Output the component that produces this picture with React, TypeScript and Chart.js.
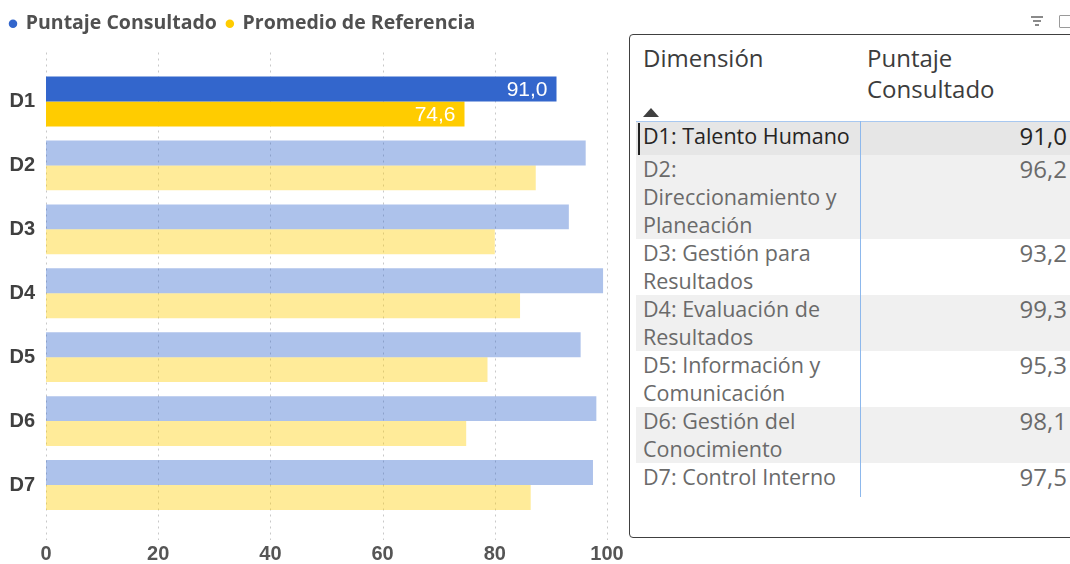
import React, { useEffect, useRef } from "react";
import { Chart, registerables } from "chart.js";

Chart.register(...registerables);

// ---------- data ----------
const categories = ["D1", "D2", "D3", "D4", "D5", "D6", "D7"];
const seriesNames = ["Puntaje Consultado", "Promedio de Referencia"];
const puntajeConsultado = [91.0, 96.2, 93.2, 99.3, 95.3, 98.1, 97.5];
const promedioReferencia = [74.6, 87.3, 80.0, 84.5, 78.7, 74.9, 86.4];
const xTickValues = [0, 20, 40, 60, 80, 100];
const dimensionNames = [
  "D1: Talento Humano",
  "D2: Direccionamiento y Planeación",
  "D3: Gestión para Resultados",
  "D4: Evaluación de Resultados",
  "D5: Información y Comunicación",
  "D6: Gestión del Conocimiento",
  "D7: Control Interno",
];
const tableHeaders = ["Dimensión", "Puntaje Consultado"];
const selectedIndex = 0;

const fmt = (v: number) => v.toFixed(1).replace(".", ",");

const axisFont = '"Liberation Sans", Arial, sans-serif';
const legendFont = '"Open Sans", "Liberation Sans", sans-serif';
const tableFont = '"Open Sans", "Liberation Sans", sans-serif';

const legendSpacing = {
  id: "legendSpacing",
  beforeInit(chart: any) {
    const legend = chart.legend;
    if (!legend) return;
    const fit = legend.fit;
    legend.fit = function () {
      fit.call(this);
      this.height += 26;
    };
  },
};

const dottedGrid = {
  id: "dottedGrid",
  beforeDatasetsDraw(chart: any) {
    const { ctx, chartArea, scales } = chart;
    const x = scales.x;
    ctx.save();
    ctx.strokeStyle = "#c8c8c8";
    ctx.lineWidth = 1;
    ctx.setLineDash([2, 4]);
    for (const v of xTickValues) {
      const px = Math.round(x.getPixelForValue(v)) + 0.5;
      ctx.beginPath();
      ctx.moveTo(px, chartArea.top - 17);
      ctx.lineTo(px, chartArea.bottom + 23);
      ctx.stroke();
    }
    ctx.restore();
  },
};

const valueLabels = {
  id: "valueLabels",
  afterDatasetsDraw(chart: any) {
    const { ctx } = chart;
    ctx.save();
    ctx.fillStyle = "#ffffff";
    ctx.font = '21px "Liberation Sans", Arial, sans-serif';
    ctx.textAlign = "right";
    ctx.textBaseline = "middle";
    chart.data.datasets.forEach((ds: any, di: number) => {
      const el = chart.getDatasetMeta(di).data[selectedIndex];
      if (!el) return;
      ctx.fillText(fmt(ds.data[selectedIndex]), el.x - 9, el.y + 1);
    });
    ctx.restore();
  },
};

function BarChart() {
  const ref = useRef<HTMLCanvasElement | null>(null);
  useEffect(() => {
    if (!ref.current) return;
    const chart = new Chart(ref.current, {
      type: "bar",
      data: {
        labels: categories,
        datasets: [
          {
            label: seriesNames[0],
            data: puntajeConsultado,
            backgroundColor: categories.map((_, i) =>
              i === selectedIndex ? "#3366CC" : "rgba(51,102,204,0.4)"
            ),
            borderWidth: 0,
            barPercentage: 1,
            categoryPercentage: 0.78,
          },
          {
            label: seriesNames[1],
            data: promedioReferencia,
            backgroundColor: categories.map((_, i) =>
              i === selectedIndex ? "#FFCC00" : "rgba(255,204,0,0.4)"
            ),
            borderWidth: 0,
            barPercentage: 1,
            categoryPercentage: 0.78,
          },
        ],
      },
      options: {
        responsive: false,
        animation: false,
        indexAxis: "y",
        layout: { padding: { top: 4, left: 0, right: 0, bottom: 0 } },
        plugins: {
          legend: {
            position: "top",
            align: "start",
            labels: {
              usePointStyle: true,
              pointStyle: "circle",
              boxWidth: 6,
              boxHeight: 6,
              padding: 10,
              color: "#505050",
              font: { family: legendFont, size: 19.5, weight: "bold" },
            },
          },
          tooltip: { enabled: false },
        },
        scales: {
          x: {
            min: 0,
            max: 100,
            ticks: {
              stepSize: 20,
              padding: 25,
              color: "#555555",
              font: { family: axisFont, size: 20, weight: "bold" },
            },
            grid: { display: false, drawTicks: false },
            border: { display: false },
            afterFit(s: any) {
              s.height = 47;
              s.paddingRight = 21;
              s.paddingLeft = 0;
            },
          },
          y: {
            ticks: {
              padding: 11,
              color: "#404040",
              font: { family: axisFont, size: 20, weight: "bold" },
            },
            grid: { display: false, drawTicks: false },
            border: { display: false },
            afterFit(s: any) {
              s.width = 46;
              s.paddingTop = 0;
              s.paddingBottom = 0;
            },
          },
        },
      } as any,
      plugins: [legendSpacing, dottedGrid, valueLabels],
    });
    return () => chart.destroy();
  }, []);
  return (
    <canvas
      ref={ref}
      width={628}
      height={564}
      style={{ position: "absolute", left: 0, top: 0, width: 628, height: 564 }}
    />
  );
}

function DataTable() {
  const rowBg = (i: number) =>
    i === selectedIndex ? "#e6e6e6" : i % 2 === 1 ? "#f0f0f0" : "#ffffff";
  return (
    <>
      {/* toolbar icons */}
      <div style={{ position: "absolute", left: 1031, top: 16, width: 12, height: 1.5, background: "#8a8a8a" }} />
      <div style={{ position: "absolute", left: 1033, top: 20, width: 8, height: 1.5, background: "#8a8a8a" }} />
      <div style={{ position: "absolute", left: 1035, top: 24, width: 4, height: 1.5, background: "#8a8a8a" }} />
      <div style={{ position: "absolute", left: 1059, top: 15, width: 12, height: 11, border: "1.5px solid #9a9a9a", borderRadius: 1 }} />

      {/* frame */}
      <div
        style={{
          position: "absolute",
          left: 629,
          top: 34,
          width: 480,
          height: 504,
          border: "1px solid #404040",
          borderRadius: 4,
          boxSizing: "border-box",
          background: "#fff",
        }}
      />
      {/* headers */}
      <div
        style={{
          position: "absolute",
          left: 643,
          top: 42,
          fontFamily: tableFont,
          fontSize: 24,
          lineHeight: "31px",
          color: "#3c3c3c",
          whiteSpace: "nowrap",
        }}
      >
        {tableHeaders[0]}
      </div>
      <div
        style={{
          position: "absolute",
          left: 867,
          top: 42,
          width: 180,
          fontFamily: tableFont,
          fontSize: 24,
          lineHeight: "31px",
          color: "#3c3c3c",
        }}
      >
        {tableHeaders[1]}
      </div>
      {/* sort arrow */}
      <div
        style={{
          position: "absolute",
          left: 643,
          top: 108,
          width: 0,
          height: 0,
          borderLeft: "8px solid transparent",
          borderRight: "8px solid transparent",
          borderBottom: "9px solid #404040",
        }}
      />
      {/* rows */}
      <div style={{ position: "absolute", left: 636, top: 122, width: 440 }}>
        {dimensionNames.map((name, i) => (
          <div
            key={name}
            style={{
              display: "flex",
              background: rowBg(i),
              minHeight: 33,
              fontFamily: tableFont,
              color: i === selectedIndex ? "#252423" : "#6a6a6a",
            }}
          >
            <div
              style={{
                width: 224,
                boxSizing: "border-box",
                paddingLeft: 7,
                paddingRight: 2,
                fontSize: 21.5,
                lineHeight: "28px",
              }}
            >
              {name}
            </div>
            <div
              style={{
                width: 207,
                textAlign: "right",
                fontSize: 24,
                lineHeight: "28px",
              }}
            >
              {fmt(puntajeConsultado[i])}
            </div>
          </div>
        ))}
      </div>
      {/* header underline and column divider */}
      <div style={{ position: "absolute", left: 636, top: 121, width: 440, height: 1, background: "#a8c8f0" }} />
      <div style={{ position: "absolute", left: 860, top: 121, width: 1, height: 376, background: "#8db8ec" }} />
      {/* selection cursor */}
      <div style={{ position: "absolute", left: 638, top: 123, width: 2, height: 32, background: "#222" }} />
    </>
  );
}

export default function App() {
  return (
    <div
      style={{
        position: "fixed",
        left: 0,
        top: 0,
        width: 1070,
        height: 564,
        overflow: "hidden",
        background: "#ffffff",
      }}
    >
      <BarChart />
      <DataTable />
    </div>
  );
}
